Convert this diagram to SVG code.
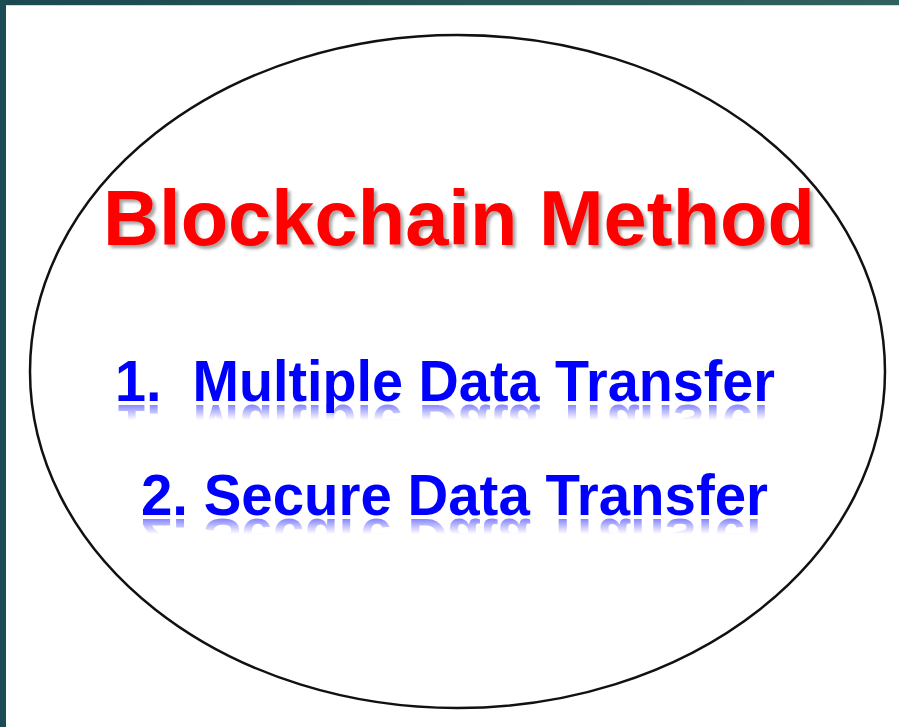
<svg xmlns="http://www.w3.org/2000/svg" width="899" height="727" viewBox="0 0 899 727">
  <defs>
    <linearGradient id="frameTop" x1="0" y1="0" x2="1" y2="0">
      <stop offset="0" stop-color="#1c4850"/>
      <stop offset="1" stop-color="#2f625d"/>
    </linearGradient>
    <filter id="softShadow" x="-5%" y="-20%" width="110%" height="150%">
      <feDropShadow dx="3" dy="3" stdDeviation="1.8" flood-color="#000" flood-opacity="0.35"/>
    </filter>
    <filter id="soft" x="-5%" y="-20%" width="110%" height="150%">
      <feGaussianBlur stdDeviation="0.7"/>
    </filter>
    <linearGradient id="fadeGrad" x1="0" y1="0" x2="0" y2="1">
      <stop offset="0" stop-color="#fff" stop-opacity="0.5"/>
      <stop offset="0.4" stop-color="#fff" stop-opacity="0"/>
      <stop offset="1" stop-color="#fff" stop-opacity="0"/>
    </linearGradient>
    <mask id="fade1" maskUnits="userSpaceOnUse" x="0" y="0" width="899" height="727">
      <rect x="100" y="404" width="700" height="40" fill="url(#fadeGrad)"/>
    </mask>
    <mask id="fade2" maskUnits="userSpaceOnUse" x="0" y="0" width="899" height="727">
      <rect x="100" y="518" width="700" height="40" fill="url(#fadeGrad)"/>
    </mask>
  </defs>
  <style>
    .title { font-family: "Liberation Sans", Arial, sans-serif; font-weight: bold; font-size: 77px; fill: #ff0000; }
    .item { font-family: "Liberation Sans", Arial, sans-serif; font-weight: bold; font-size: 58px; fill: #0000ff; white-space: pre; }
    .outline { fill: none; stroke: #111; stroke-width: 2.5; }
  </style>

  <!-- page background and frame -->
  <rect x="0" y="0" width="899" height="727" fill="#ffffff"/>
  <rect x="0" y="0" width="899" height="5" fill="url(#frameTop)"/>
  <rect x="0" y="5" width="899" height="1" fill="#cfdcdc"/>
  <rect x="0" y="0" width="6" height="727" fill="#1b4c55"/>

  <g id="method">
    <ellipse class="outline" cx="457.5" cy="371.5" rx="427.5" ry="336.5"/>

    <text class="title" x="103" y="245" textLength="712" lengthAdjust="spacingAndGlyphs" filter="url(#softShadow)">Blockchain Method</text>

    <!-- list item 1 with its mirrored reflection -->
    <text id="item1" class="item" x="115" y="401" textLength="660" lengthAdjust="spacingAndGlyphs">1.  Multiple Data Transfer</text>
    <g mask="url(#fade1)" filter="url(#soft)">
      <text class="item" x="115" y="401" textLength="660" lengthAdjust="spacingAndGlyphs" transform="translate(0 806) scale(1 -1)">1.  Multiple Data Transfer</text>
    </g>

    <!-- list item 2 with its mirrored reflection -->
    <text id="item2" class="item" x="141" y="515" textLength="627" lengthAdjust="spacingAndGlyphs">2. Secure Data Transfer</text>
    <g mask="url(#fade2)" filter="url(#soft)">
      <text class="item" x="141" y="515" textLength="627" lengthAdjust="spacingAndGlyphs" transform="translate(0 1034) scale(1 -1)">2. Secure Data Transfer</text>
    </g>
  </g>
</svg>
